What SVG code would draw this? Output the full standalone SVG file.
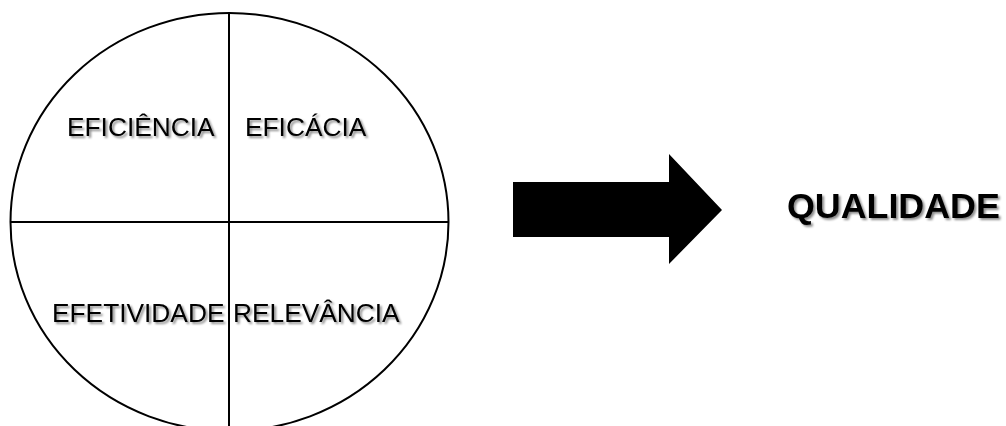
<svg xmlns="http://www.w3.org/2000/svg" width="1006" height="426" viewBox="0 0 1006 426">
<style>
.ln{fill:none;stroke:#000;stroke-width:2}
.t{font-family:"Liberation Sans",Arial,sans-serif;font-size:26.3px;fill:#000;filter:url(#sh)}
.b{font-family:"Liberation Sans",Arial,sans-serif;font-size:35.8px;font-weight:bold;fill:#000;filter:url(#sh)}
</style>
<defs>
<filter id="sh" x="-10%" y="-30%" width="120%" height="160%">
<feDropShadow dx="2" dy="2" stdDeviation="1.2" flood-color="#000" flood-opacity="0.45"/>
</filter>
</defs>
<rect width="1006" height="426" fill="#fff"/>
<g id="circle">
<ellipse class="ln" cx="229.5" cy="222" rx="219" ry="209"/>
</g>
<g id="connectors">
<line class="ln" x1="229" y1="13" x2="229" y2="426"/>
<line class="ln" x1="10.5" y1="222" x2="448.5" y2="222"/>
<polygon id="arrow" points="513,182 669,182 669,154 722,210 669,264 669,237 513,237" fill="#000"/>
</g>
<g id="eficiencia"><text class="t" x="67" y="136">EFICIÊNCIA</text></g>
<g id="eficacia"><text class="t" x="245" y="136">EFICÁCIA</text></g>
<g id="efetividade"><text class="t" x="52" y="322">EFETIVIDADE</text></g>
<g id="relevancia"><text class="t" x="233" y="322">RELEVÂNCIA</text></g>
<g id="qualidade"><text class="b" x="787" y="218">QUALIDADE</text></g>
</svg>
